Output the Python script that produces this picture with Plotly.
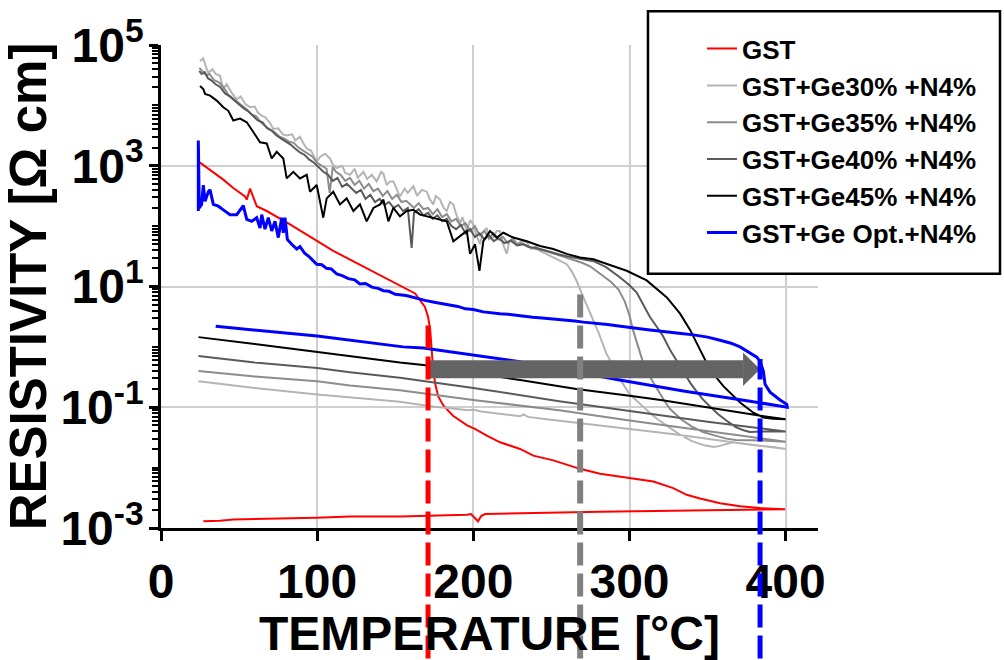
import plotly.graph_objects as go

# ---------------- data (temperature in °C, resistivity in Ohm·cm) ----------------
gst_t = [24.5, 31.4, 39.9, 46.3, 53.8, 54.9, 57.0, 61.3, 67.7, 82.6, 110.3, 162.7, 166, 169, 171,
         172.3, 173.2, 174.2, 175.5, 177.5, 181, 187, 196, 201, 208.6, 217.1, 229.9, 238.4, 251.2,
         268.3, 281.1, 300.3, 315.3, 328, 336.6, 345.2, 358, 370.8, 383.6, 399.6,
         366.5, 281, 207.5, 205, 203, 200.5, 198.5, 195.8, 153, 121, 99.7, 46.3, 37.8, 27.1]
gst_r = [1150, 851, 589, 427, 309, 275, 417, 214, 178, 107, 38.9, 7.67, 5.75, 4.57, 3.16,
         2.0, 1.0, 0.447, 0.251, 0.151, 0.105, 0.0724, 0.0501, 0.0437, 0.0339, 0.0263, 0.0204, 0.0158, 0.0132,
         0.00955, 0.00794, 0.00661, 0.00589, 0.00457, 0.00355, 0.00309, 0.00257, 0.00229, 0.00214, 0.00204,
         0.00200, 0.00186, 0.00170, 0.00158, 0.00129, 0.00148, 0.00170, 0.00166, 0.00155, 0.00155, 0.00148,
         0.00138, 0.00132, 0.00129]

ge30_t = [25, 27, 29, 30.3, 33, 35, 37.8, 39.9, 42, 45, 48.5, 51, 54, 57, 60, 62, 64.5, 67, 70, 71.9,
          75, 78, 80.5, 84, 86, 89, 91, 93.3, 96, 99.7, 102, 105, 108.2, 110, 112.5, 116, 118, 121, 124,
          126, 129.6, 132, 135, 138.1, 141, 142.4, 144.5, 146.7, 148.8, 151, 153, 156, 158, 161.6, 164,
          167, 170.2, 172, 174.4, 176, 178.7, 181, 183, 185, 187.2, 189, 191.5, 193, 195.8, 198, 200,
          202, 204.3, 206, 208.6, 210, 212.8, 215, 217.1, 219, 221.4, 223, 225.6, 228, 231, 234.2, 237,
          240, 242.7, 246, 251.2, 255, 259.8, 263, 266, 270, 275, 280, 285, 290, 295, 300, 306, 312,
          318, 325, 332, 340, 348, 354, 358, 366, 380, 392, 400,
          366, 330, 300, 268, 247, 235, 232, 230, 215, 205, 200, 196, 190, 175, 153, 121, 100, 60, 24]
ge30_r = [53700, 60300, 41700, 34700, 39800, 33100, 30900, 18600, 22400, 16600, 12600, 14100, 10500,
          9330, 9550, 7590, 6760, 6310, 5010, 4070, 4170, 3310, 3160, 3310, 2630, 3020, 2400, 1910, 1780,
          1170, 1410, 1580, 1320, 1050, 912, 1000, 759, 708, 891, 631, 794, 603, 708, 550, 794, 741, 479,
          550, 550, 398, 309, 417, 355, 457, 316, 398, 372, 282, 229, 316, 275, 200, 178, 251, 229, 158,
          112, 141, 83.2, 126, 107, 70.8, 50.1, 79.4, 93.3, 60.3, 64.6, 83.2, 83.2, 50.1, 34.7, 56.2,
          64.6, 50.1, 57.5, 53.7, 41.7, 45.7, 38.9, 35.5, 30.2, 26.9, 23.4, 17.8, 12.6, 7.08, 3.55, 1.78,
          0.794, 0.447, 0.263, 0.166, 0.117, 0.0851, 0.0631, 0.0468, 0.0355, 0.0275, 0.0234, 0.0219,
          0.0229, 0.0263, 0.0234, 0.0219, 0.0204,
          0.0263, 0.0355, 0.0437, 0.0537, 0.0631, 0.0692, 0.0759, 0.0708, 0.0794, 0.0851, 0.0912,
          0.0891, 0.0933, 0.102, 0.123, 0.145, 0.162, 0.209, 0.269]

ge35_t = [24.5, 27, 29, 31, 34, 37, 40, 43, 46, 49, 52, 55, 58, 61, 64, 67, 70, 73, 76, 79, 82, 85,
          88, 91, 94, 97, 100, 103, 106, 108, 110, 112, 115, 118, 121, 124, 127, 130, 133, 136, 139,
          142, 145, 148, 151, 154, 157, 160, 162, 165, 168, 171, 174, 177, 180, 183, 186, 189, 192,
          195, 198, 201, 204, 207, 210, 213, 216, 219, 222, 225, 228, 231, 235, 240, 245, 250, 255,
          260, 265, 270, 275, 282, 288, 293, 297, 300, 302, 305, 308.7, 312, 317.5, 322, 326, 333,
          340, 347, 355, 362, 368, 375, 385, 400,
          350, 300, 255, 200, 153, 121, 100, 60, 24]
ge35_r = [41700, 35500, 31600, 33100, 26300, 24000, 20000, 15100, 13200, 11200, 10000, 8510, 7080,
          6610, 5250, 4470, 3980, 3550, 3020, 2820, 2510, 2400, 2000, 1780, 1580, 1410, 1120, 1000,
          891, 355, 955, 794, 708, 562, 631, 479, 562, 417, 501, 380, 417, 316, 380, 282, 331, 251,
          263, 224, 200, 240, 191, 200, 158, 191, 141, 158, 120, 132, 100, 112, 83.2, 100, 70.8, 83.2,
          63.1, 75.9, 60.3, 66.1, 52.5, 60.3, 50.1, 52.5, 45.7, 41.7, 39.8, 36.3, 33.1, 30.2, 27.5,
          24.5, 21.4, 15.8, 12.0, 8.91, 5.62, 3.31, 2.0, 1.12, 0.550, 0.355, 0.200, 0.132, 0.0933,
          0.0631, 0.0479, 0.0389, 0.0339, 0.0302, 0.0288, 0.0288, 0.0282, 0.0269,
          0.0398, 0.0603, 0.0891, 0.132, 0.191, 0.229, 0.269, 0.324, 0.398]

ge40_t = [24.5, 26, 28, 30, 32, 35, 38, 41, 44, 47, 50, 53, 56, 59, 62, 65, 68, 71, 74, 77, 80, 83,
          86, 89, 92, 95, 98, 101, 104, 107, 110, 113, 116, 119, 122, 125, 128, 131, 134, 137, 140,
          143, 146, 149, 152, 155, 158, 160.5, 162, 165, 168, 171, 174, 177, 180, 183, 186, 189, 192,
          195, 198, 201, 204, 207, 210, 213, 216, 220, 224, 228, 232, 236, 240, 245, 250, 255, 260,
          265, 270, 277, 285, 294, 300, 304.6, 309, 313, 317, 321, 326, 331, 335, 339, 343, 347, 352,
          357, 362, 368, 373, 377, 385, 400,
          350, 300, 255, 200, 153, 121, 100, 60, 24]
ge40_r = [37200, 33100, 35500, 28200, 26300, 22400, 20000, 15800, 14100, 12000, 10500, 8910, 7940,
          6610, 5620, 5250, 4170, 3800, 3160, 2820, 2510, 2240, 1910, 1660, 1510, 1260, 1120, 955, 794,
          708, 562, 631, 447, 501, 417, 355, 398, 282, 331, 251, 282, 224, 251, 200, 224, 178, 200,
          43.7, 166, 191, 151, 166, 132, 151, 120, 132, 100, 89.1, 105, 75.9, 89.1, 66.1, 75.9, 60.3,
          70.8, 56.2, 63.1, 52.5, 57.5, 47.9, 50.1, 44.7, 43.7, 39.8, 36.3, 33.9, 31.6, 29.5, 28.2,
          26.3, 20.9, 14.1, 10.5, 7.94, 5.01, 3.16, 2.24, 1.58, 0.891, 0.550, 0.355, 0.251, 0.182,
          0.135, 0.100, 0.0759, 0.0603, 0.0468, 0.0417, 0.0389, 0.0398, 0.0398,
          0.0575, 0.0871, 0.126, 0.209, 0.309, 0.380, 0.447, 0.550, 0.708]

ge45_t = [25, 27.1, 28.2, 31.4, 35.7, 39.9, 43.1, 46.3, 50.6, 54.9, 59.1, 63.4, 67.7, 70.9, 74.1,
          78.3, 80.5, 84.7, 89, 93.3, 95.4, 99.7, 103.9, 106.1, 110.3, 114.6, 118.9, 123.2, 127.4,
          131.7, 136, 140.3, 142.4, 145.6, 148.8, 153, 157.3, 161.6, 165.9, 170.2, 174.4, 178.7, 183,
          187.2, 191.5, 195.8, 197.9, 201.1, 203.9, 206.4, 210.7, 215, 219.2, 225.6, 234.2, 242.7,
          251.2, 259.8, 268.3, 276.9, 287, 298.2, 311, 323.9, 332.4, 338.8, 345.2, 351.6, 360.1,
          370.8, 379.3, 385.7, 392, 400,
          384, 350, 320, 300, 266, 230, 200, 168, 153, 121, 100, 60, 24]
ge45_r = [20900, 18600, 15500, 14500, 12000, 9330, 8130, 5620, 6030, 5250, 3630, 2450, 2340, 1320,
          1700, 1320, 617, 794, 617, 708, 372, 479, 138, 288, 372, 229, 288, 178, 229, 120, 200, 229,
          275, 120, 200, 145, 178, 186, 155, 145, 138, 129, 120, 56.2, 69.2, 83.2, 34.7, 50.1, 18.2,
          56.2, 83.2, 64.6, 77.6, 64.6, 56.2, 46.8, 41.7, 34.7, 30.2, 28.2, 22.9, 18.2, 12.6, 6.61,
          3.55, 1.91, 0.891, 0.417, 0.224, 0.120, 0.0813, 0.0676, 0.0646, 0.0631,
          0.0724, 0.100, 0.132, 0.155, 0.200, 0.282, 0.372, 0.501, 0.550, 0.708, 0.832, 1.12, 1.45]

opt_t = [23.9, 23.9, 24.5, 26, 27.1, 28.2, 30.3, 31.4, 33.5, 36.7, 39.9, 44.2, 48.5, 52.7, 54.9,
         58.1, 61.3, 63.4, 64.5, 66.6, 68.7, 70.9, 73, 75.1, 77.3, 78.3, 79.4, 80.9, 83.7, 86.9, 89,
         92, 95, 99.7, 103, 106, 109, 112.5, 116, 120, 124, 127.4, 131, 135, 139, 142.4, 146, 150,
         157, 163.7, 169, 175, 180, 185, 190, 195, 200, 206.4, 212, 217, 222, 227.8, 233, 238, 244,
         249, 255, 260, 265, 270.4, 276, 281, 286, 291.8, 297, 302, 308, 313.2, 319, 325, 333, 341,
         350, 358, 365, 370.8, 377.2, 381.5, 383.6, 385.7, 386.8, 390, 396.4, 400.7, 401,
         396.4, 377.2, 334.5, 291.8, 228.8, 168, 155, 100, 35]
opt_r = [178, 2630, 200, 229, 479, 257, 372, 398, 229, 214, 186, 155, 155, 219, 129, 120, 138, 93.3,
         155, 89.1, 138, 83.2, 120, 64.6, 138, 77.6, 138, 60.3, 50.1, 41.7, 45.7, 35.5, 30.9, 23.4,
         22.9, 20.0, 19.5, 16.2, 15.1, 13.5, 12.9, 11.0, 11.2, 9.77, 9.33, 8.51, 8.32, 7.41, 7.08,
         6.31, 5.89, 5.50, 5.25, 4.90, 4.68, 4.27, 4.17, 3.80, 3.72, 3.55, 3.47, 3.31, 3.24, 3.09,
         3.02, 2.95, 2.88, 2.75, 2.69, 2.57, 2.51, 2.40, 2.34, 2.24, 2.14, 2.04, 1.98, 1.91, 1.82,
         1.74, 1.66, 1.58, 1.45, 1.29, 1.15, 1.00, 0.794, 0.676, 0.575, 0.398, 0.240, 0.178, 0.132,
         0.112, 0.100,
         0.105, 0.126, 0.186, 0.288, 0.575, 0.955, 1.00, 1.51, 2.19]

series_names = ["GST", "GST+Ge30% +N4%", "GST+Ge35% +N4%", "GST+Ge40% +N4%",
                "GST+Ge45% +N4%", "GST+Ge Opt.+N4%"]
series_colors = ["#ff0000", "#b4b4b4", "#8c8c8c", "#5a5a5a", "#000000", "#0000ff"]
series_t = [gst_t, ge30_t, ge35_t, ge40_t, ge45_t, opt_t]
series_r = [gst_r, ge30_r, ge35_r, ge40_r, ge45_r, opt_r]
series_width = [2, 2, 2, 2, 2, 3]

x_ticks = [0, 100, 200, 300, 400]
y_decades = [1e-3, 1e-2, 1e-1, 1e0, 1e1, 1e2, 1e3, 1e4, 1e5]
y_label_vals = [1e-3, 1e-1, 1e1, 1e3, 1e5]
y_label_text = ["10<sup>-3</sup>", "10<sup>-1</sup>", "10<sup>1</sup>", "10<sup>3</sup>", "10<sup>5</sup>"]
y_minor = [k * d for d in y_decades[:-1] for k in range(2, 10)]
y_unlabelled = [d for d in y_decades if d not in y_label_vals]

# crystallization temperatures marked by dashed lines: (T, top in log10 resistivity, colour, width)
tx_marks = [(171.0, 0.40, "#ff0000", 5), (268.4, 0.90, "#808080", 6), (383.6, -0.20, "#0000ff", 5)]
arrow_start, arrow_body_end, arrow_tip = 170.3, 372.7, 383.6
arrow_level = -0.37  # log10 resistivity of arrow axis

FONT = "Liberation Sans, Arial, sans-serif"

fig = go.Figure()
for name, col, t, r, w in zip(series_names, series_colors, series_t, series_r, series_width):
    fig.add_trace(go.Scatter(x=t, y=r, mode="lines", name=name,
                             line=dict(color=col, width=w), hoverinfo="skip"))

YMIN, YMAX = -3, 5
def ypaper(logv):
    return (logv - YMIN) / (YMAX - YMIN)

shapes = []
# legend box
shapes.append(dict(type="rect", xref="paper", yref="paper", x0=0.7412, x1=1.2770, y0=0.5266, y1=1.0697,
                   fillcolor="white", line=dict(color="black", width=2.5), layer="above"))
# arrow body + head
yc = ypaper(arrow_level)
shapes.append(dict(type="rect", xref="x", yref="paper", x0=arrow_start, x1=arrow_body_end,
                   y0=yc - 0.0185, y1=yc + 0.0185,
                   fillcolor="#646464", line=dict(width=0), layer="above"))
shapes.append(dict(type="path", xref="x", yref="paper",
                   path=f"M{arrow_body_end},{yc + 0.0348} L{arrow_tip},{yc} L{arrow_body_end},{yc - 0.0348} Z",
                   fillcolor="#646464", line=dict(width=0), layer="above"))
for tx, top, col, w in tx_marks:
    shapes.append(dict(type="line", xref="x", yref="paper", x0=tx, x1=tx, y0=-0.27, y1=ypaper(top),
                       line=dict(color=col, width=w, dash="23px,8px"), layer="above"))

axis_common = dict(showline=True, linecolor="black", linewidth=2.5, mirror=False,
                   tickcolor="black", tickwidth=2.5, zeroline=False)
GRID = "#cfcfcf"

fig.update_layout(
    width=1004, height=660,
    margin=dict(l=161, r=186, t=42, b=130),
    paper_bgcolor="white", plot_bgcolor="white",
    font=dict(family=FONT, color="black", weight="bold"),
    showlegend=True,
    legend=dict(x=0.8234, y=1.041, xanchor="left", yanchor="top",
                bgcolor="rgba(0,0,0,0)", borderwidth=0,
                font=dict(family=FONT, size=26, color="black", weight="bold")),
    xaxis=dict(range=[0, 420.7], tickmode="array", tickvals=x_ticks, ticks="outside", ticklen=10,
               showgrid=True, gridcolor=GRID, gridwidth=1.5,
               tickfont=dict(family=FONT, size=48, weight="bold"),
               title=dict(text="TEMPERATURE [°C]", font=dict(family=FONT, size=48, weight="bold"), standoff=6),
               **axis_common),
    xaxis2=dict(range=[0, 420.7], overlaying="x", side="top", anchor="y", tickmode="array",
                tickvals=x_ticks, ticks="inside", ticklen=10, showticklabels=False, showgrid=False,
                **axis_common),
    yaxis=dict(type="log", range=[YMIN, YMAX], tickmode="array", tickvals=y_label_vals, ticktext=y_label_text,
               ticks="outside", ticklen=9, showgrid=True, gridcolor=GRID, gridwidth=1.5,
               ticklabelstandoff=-4,
               minor=dict(tickmode="array", tickvals=y_minor + y_unlabelled, ticks="outside", ticklen=6,
                          tickwidth=1.5, tickcolor="black", showgrid=False),
               tickfont=dict(family=FONT, size=48, weight="bold"),
               title=dict(text="RESISTIVITY [Ω cm]", font=dict(family=FONT, size=51, weight="bold"), standoff=1),
               **axis_common),
    yaxis2=dict(type="log", range=[YMIN, YMAX], overlaying="y", side="right", anchor="x",
                tickmode="array", tickvals=y_decades, ticks="inside", ticklen=10, showticklabels=False,
                showgrid=True, gridcolor=GRID, gridwidth=1.5,
                minor=dict(tickmode="array", tickvals=y_minor, ticks="inside", ticklen=6,
                           tickwidth=1.5, tickcolor="black", showgrid=False),
                **axis_common),
    shapes=shapes,
)

fig.write_html("out.html")
